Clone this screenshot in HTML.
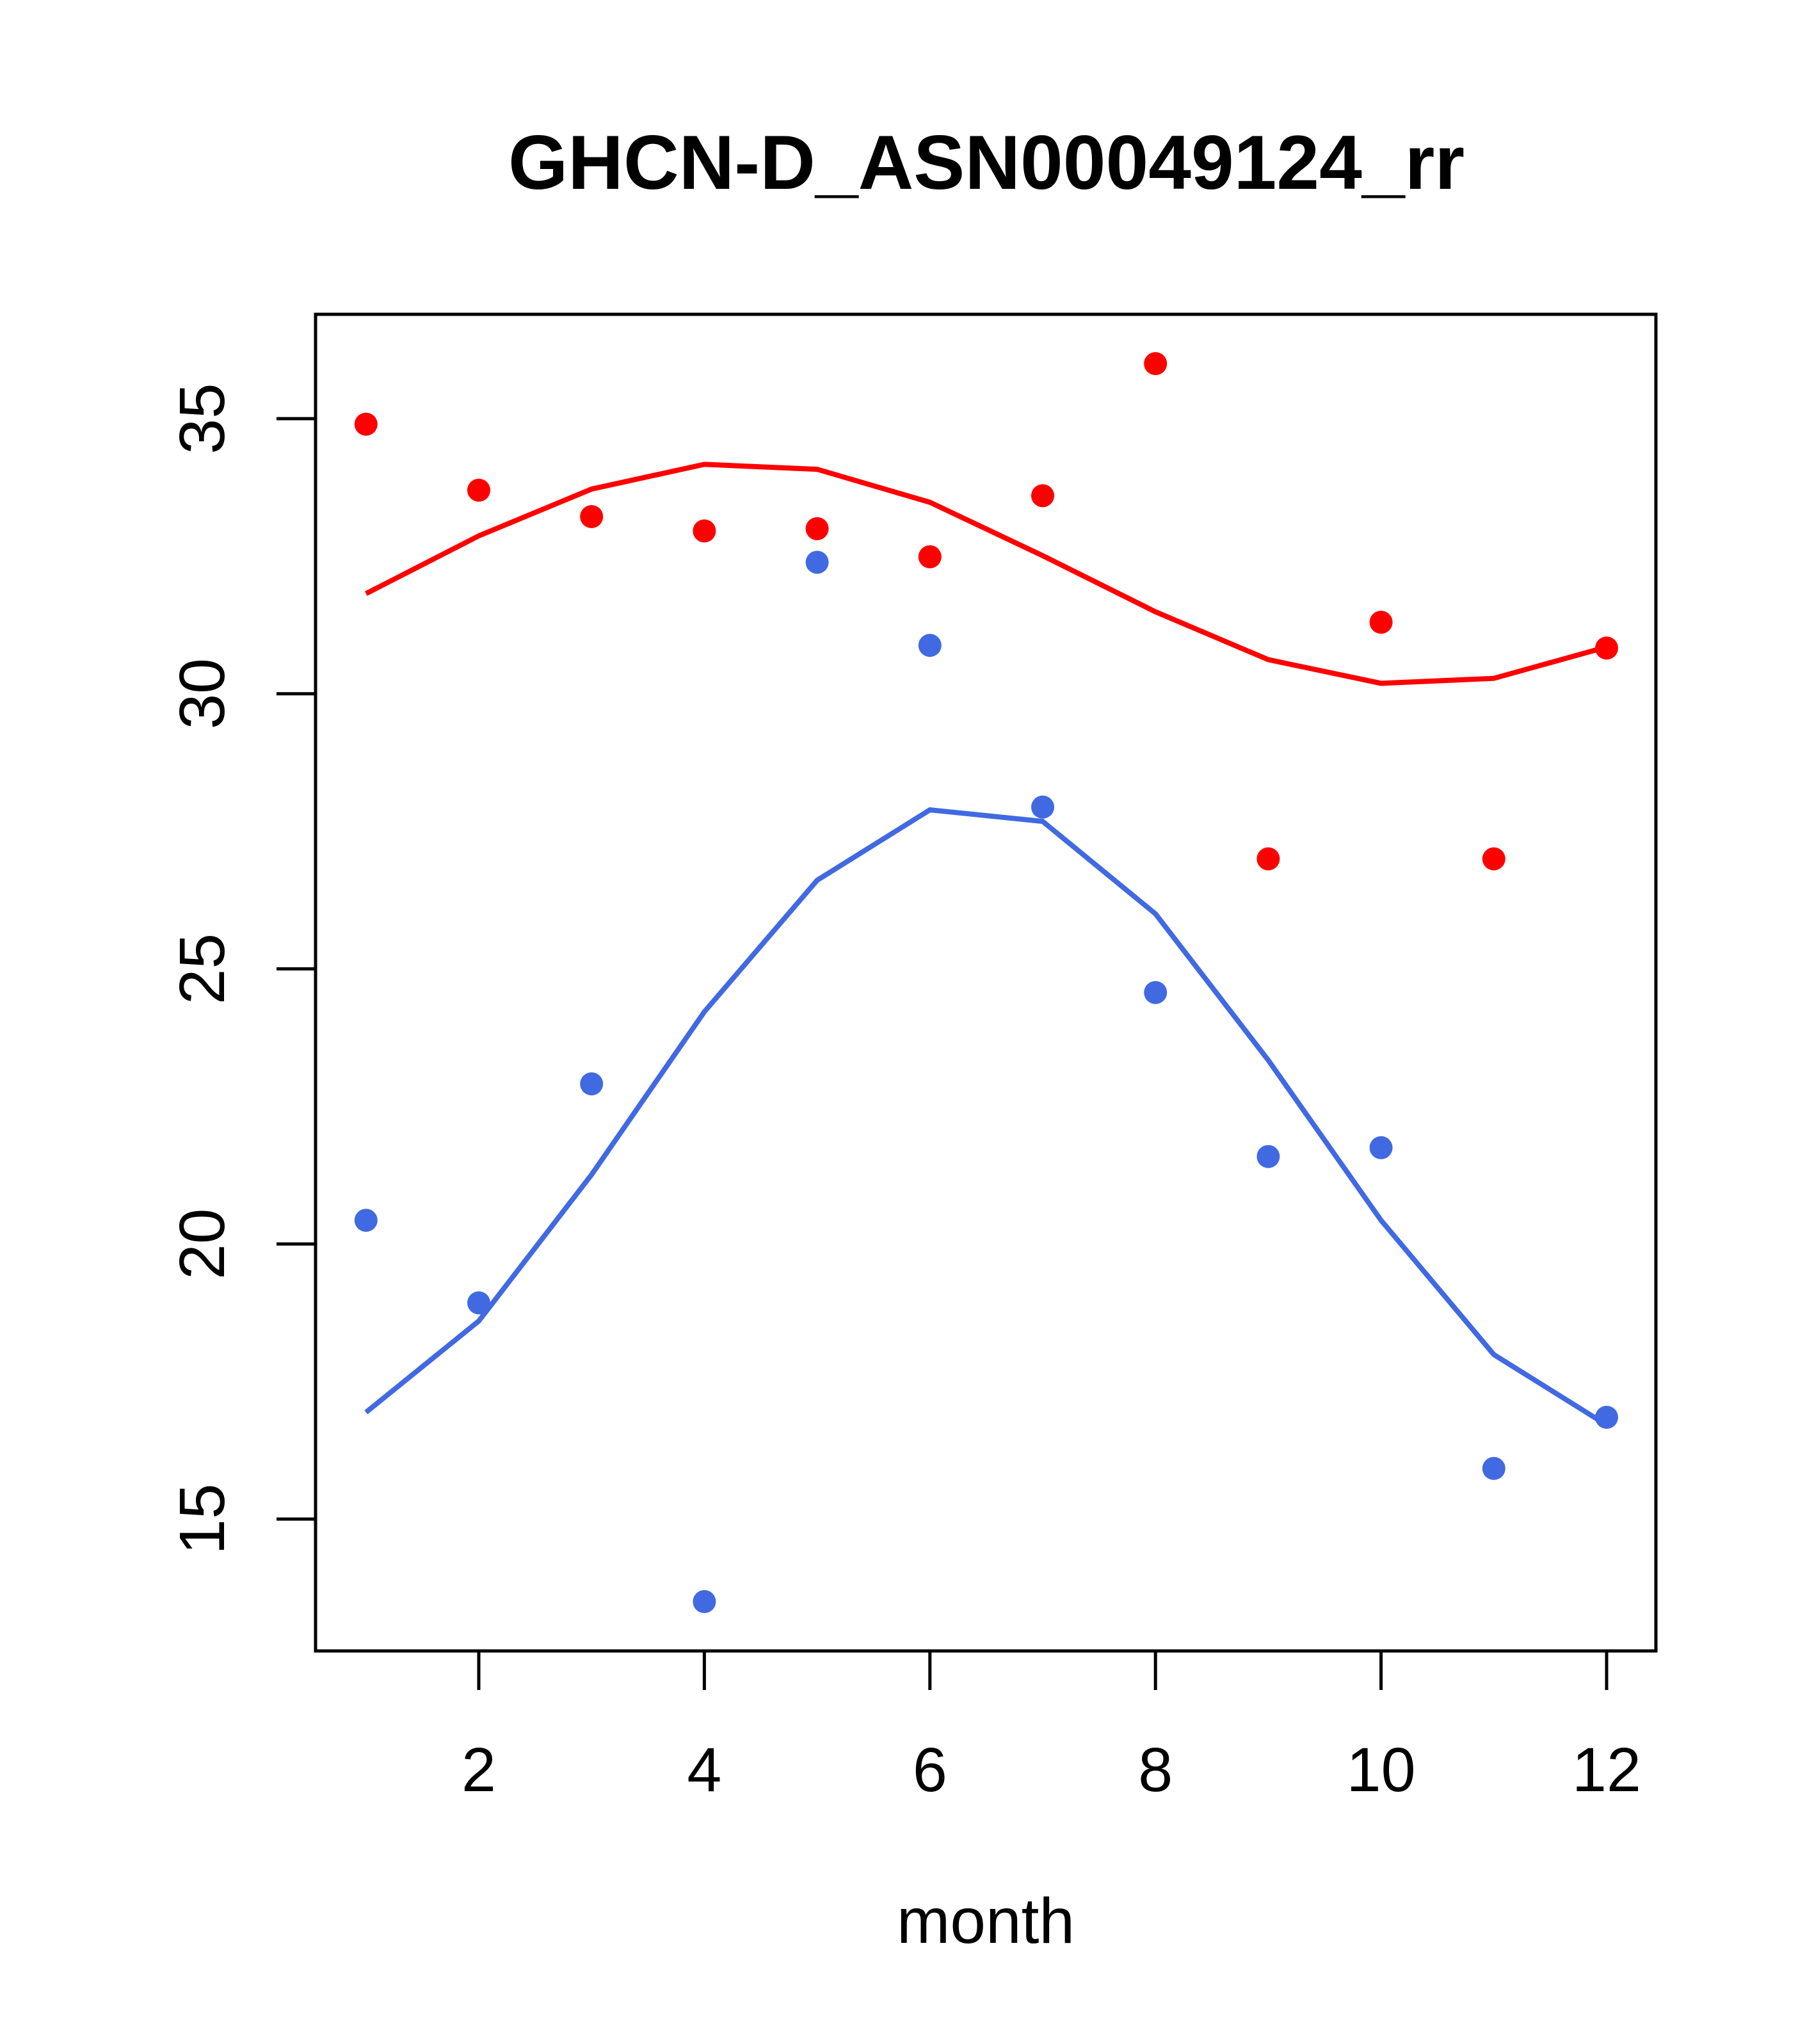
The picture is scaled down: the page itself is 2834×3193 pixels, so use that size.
<!DOCTYPE html>
<html><head><meta charset="utf-8"><style>
html,body{margin:0;padding:0;background:#fff;}
svg text{font-family:"Liberation Sans",sans-serif;}
</style></head><body>
<svg id="chart" width="2834" height="3188" viewBox="0 0 2834 3188" xmlns="http://www.w3.org/2000/svg">
<rect width="2834" height="3188" fill="#fff"/>
<text x="1541" y="295" font-size="120" font-weight="bold" text-anchor="middle">GHCN-D_ASN00049124_rr</text>
<rect x="493" y="491" width="2094" height="2088" fill="none" stroke="#000" stroke-width="5"/>
<text x="1540" y="3035" font-size="100" text-anchor="middle">month</text>
<g id="axes"></g>
<g id="series"></g>
</svg>
<script>
const months = [1,2,3,4,5,6,7,8,9,10,11,12];
const redPoints = [34.9,33.7,33.22,32.96,33.0,32.49,33.6,36.0,27.0,31.3,27.0,30.83];
const redLine = [31.82,32.87,33.72,34.17,34.08,33.48,32.51,31.49,30.62,30.19,30.28,30.85];
const bluePoints = [20.43,18.93,22.91,13.5,32.39,30.88,27.94,24.57,21.59,21.75,15.92,16.85];
const blueLine = [16.94,18.6,21.26,24.22,26.61,27.89,27.68,26.0,23.34,20.43,17.99,16.71];
const xTicks = [2,4,6,8,10,12];
const yTicks = [15,20,25,30,35];

const NS = "http://www.w3.org/2000/svg";
function xs(m){ return 748 + (m-2)*(2510-748)/10; }
function ys(v){ return 654 + (35-v)*(2373-654)/20; }
function mk(tag, attrs, parent){
  const e = document.createElementNS(NS, tag);
  for (const k in attrs) e.setAttribute(k, attrs[k]);
  parent.appendChild(e);
  return e;
}
const axes = document.getElementById('axes');
const series = document.getElementById('series');

xTicks.forEach(t => {
  const l = mk('line', {x1:xs(t), x2:xs(t), y1:2579, y2:2640, stroke:'#000', 'stroke-width':5}, axes);
  
  
  const tx = mk('text', {x:xs(t), y:2798, 'font-size':97, 'text-anchor':'middle'}, axes);
  tx.textContent = t;
  
  
});
yTicks.forEach(t => {
  const l = mk('line', {x1:432, x2:493, y1:ys(t), y2:ys(t), stroke:'#000', 'stroke-width':5}, axes);
  
  
  const tx = mk('text', {x:0, y:0, 'font-size':100, 'text-anchor':'middle', transform:'translate(350,' + ys(t) + ') rotate(-90)'}, axes);
  tx.textContent = t;
  
  
});

function drawLine(vals, color, name){
  const pts = months.map((m,i) => xs(m) + ',' + ys(vals[i])).join(' ');
  const p = mk('polyline', {points:pts, fill:'none', stroke:color, 'stroke-width':8}, series);
  
  
}
function drawPoints(vals, color, name){
  months.forEach((m,i) => {
    const c = mk('circle', {cx:xs(m), cy:ys(vals[i]), r:18, fill:color}, series);
    
    
  });
}
drawLine(redLine, '#ff0000', 'red-smooth-line');
drawLine(blueLine, '#4169e1', 'blue-smooth-line');
drawPoints(redPoints, '#ff0000', 'red-point');
drawPoints(bluePoints, '#4169e1', 'blue-point');
</script>
</body></html>
